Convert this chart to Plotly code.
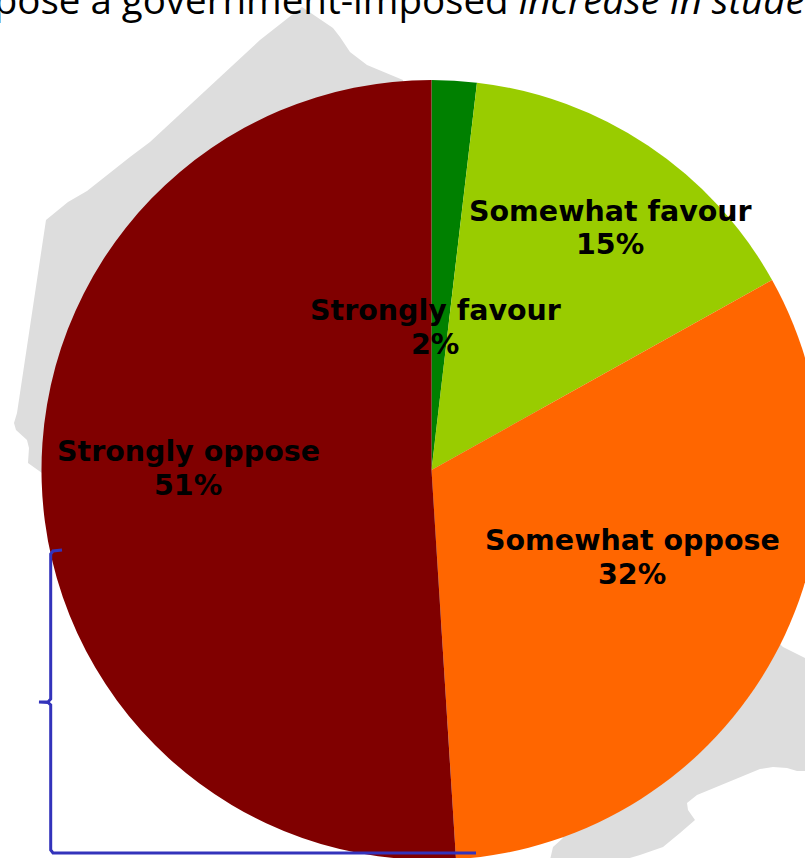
import plotly.graph_objects as go

labels = ["Strongly favour", "Somewhat favour", "Somewhat oppose", "Strongly oppose"]
values = [1.86, 15.04, 32.1, 51.0]
colors = ["#008000", "#99CC00", "#FF6600", "#800000"]
label_pos = [(435, 310), (610, 211), (632, 540), (188, 451)]

title_plain = "oppose a government-imposed "
title_italic = "increase in stude"

W, H = 830, 870
CX, CY, R = 431.5, 470, 390

map_outline = [
    (403, 80), (367, 65), (350, 52), (340, 37), (333, 28), (302, 7), (260, 40), (150, 142),
    (130, 157), (87, 191), (68, 202), (46, 220), (17, 413), (14, 423), (16, 430), (27, 440),
    (29, 448), (28, 463), (42, 473), (430, 600), (563, 838), (553, 847), (550, 860), (623, 860),
    (640, 855), (663, 847), (680, 833), (695, 820), (688, 810), (687, 803), (697, 795), (760, 769),
    (773, 767), (787, 768), (797, 771), (830, 771), (830, 668), (805, 658), (783, 647), (430, 300),
]
bracket = [(62, 550), (53, 551), (50.7, 554), (50.7, 699), (48, 702), (39, 702), (48, 702.5),
           (50.7, 705), (50.7, 850), (53, 853), (476, 853)]


def px(p):
    return p[0] / W


def py(p):
    return 1 - p[1] / H


def path(points, close=False):
    s = "M" + " L".join(f"{px(p):.5f},{py(p):.5f}" for p in points)
    return s + (" Z" if close else "")


fig = go.Figure(go.Pie(
    labels=labels, values=values, sort=False, direction="clockwise", rotation=0,
    marker=dict(colors=colors, line=dict(width=0)), textinfo="none",
    domain=dict(x=[(CX - R) / W, (CX + R) / W], y=[1 - (CY + R) / H, 1 - (CY - R) / H]),
    showlegend=False,
))

fig.add_shape(type="path", path=path(map_outline, True), xref="paper", yref="paper",
              fillcolor="#DDDDDD", line=dict(width=0), layer="below")
fig.add_shape(type="path", path=path(bracket), xref="paper", yref="paper",
              line=dict(color="#3333BB", width=3), layer="above")

for lab, val, pos in zip(labels, values, label_pos):
    for text, y in ((lab, pos[1]), (f"{round(val)}%", pos[1] + 34)):
        fig.add_annotation(x=px(pos), y=py((0, y)), xref="paper", yref="paper", showarrow=False,
                           text=f"<b>{text}</b>", xanchor="center", yanchor="middle",
                           font=dict(family="DejaVu Sans", size=28.5, color="#000000"))

fig.add_annotation(x=-55 / W, y=py((0, -1)), xref="paper", yref="paper", showarrow=False,
                   xanchor="left", yanchor="middle",
                   text=f"{title_plain}<i>{title_italic}</i>",
                   font=dict(family="Open Sans", size=38.5, color="#000000"))

fig.update_layout(width=W, height=H, margin=dict(l=0, r=0, t=0, b=0),
                  paper_bgcolor="#FFFFFF", plot_bgcolor="#FFFFFF")

fig.write_html("out.html", config={"displayModeBar": False},
               post_script="document.documentElement.style.overflow='hidden';document.body.style.overflow='hidden';document.body.style.margin='0';")
